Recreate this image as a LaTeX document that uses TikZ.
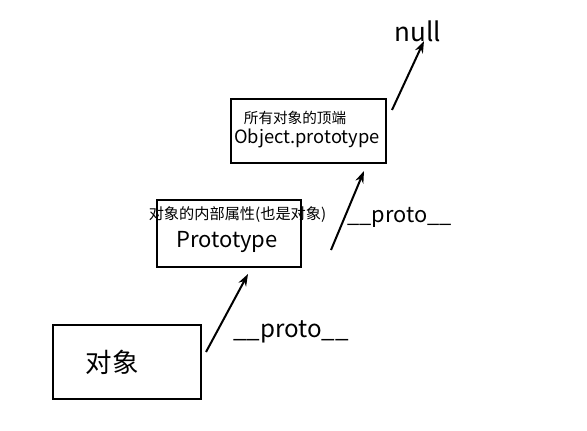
\documentclass[tikz,border=0pt]{standalone}
\usepackage{fontspec}
\setmainfont{Noto Sans CJK SC}
\usetikzlibrary{arrows.meta}
\begin{document}
\begin{tikzpicture}[x=1pt,y=-1pt,
  box/.style={draw,line width=2.3pt,inner sep=0pt},
  arr/.style={line width=2pt,-{Stealth[length=12pt,width=8.5pt]}},
  fs/.style={font=\fontsize{#1}{#1}\selectfont,inner sep=0pt}]
\useasboundingbox (0,0) rectangle (587,431);
% boxes
\node[box,minimum width=148pt,minimum height=74pt] (obj) at (127,362) {};
\node[box,minimum width=144pt,minimum height=67pt] (proto) at (229,233.5) {};
\node[box,minimum width=155pt,minimum height=64pt] (top) at (308.5,131) {};
% texts
\node[fs=26.5] (objtxt) at (112,362) {对象};
\node[fs=15.2] (protonote) at (237.5,215) {对象的内部属性(也是对象)};
\node[fs=22] (prototxt) at (227,242) {Prototype};
\node[fs=14.6] (topnote) at (295,118) {所有对象的顶端};
\node[fs=18.3] (toptxt) at (307,138) {Object.prototype};
\node[fs=26] (null) at (418,31) {null};
\node[fs=24.2] (l1) at (291,332) {\_\_proto\_\_};
\node[fs=21.8] (l2) at (399.5,217) {\_\_proto\_\_};
% arrows
\coordinate (a1s) at (206,352);
\coordinate (a1e) at (248,274);
\coordinate (a2s) at (331,250);
\coordinate (a2e) at (364,171);
\coordinate (a3s) at (392,110);
\coordinate (a3e) at (424,41);
\draw[arr] (a1s) -- (a1e);
\draw[arr] (a2s) -- (a2e);
\draw[arr] (a3s) -- (a3e);
\end{tikzpicture}
\end{document}
